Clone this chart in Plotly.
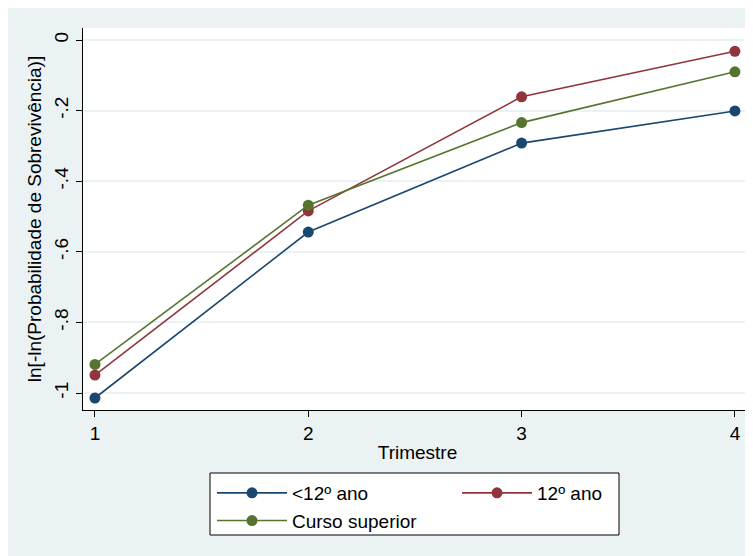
import plotly.graph_objects as go

trimestre = [1, 2, 3, 4]
menos12 = [-1.014, -0.544, -0.292, -0.201]
ano12 = [-0.949, -0.484, -0.161, -0.032]
superior = [-0.919, -0.468, -0.234, -0.090]

series_names = ["<12º ano", "12º ano", "Curso superior"]
colors = ["#1A476F", "#90353B", "#55752F"]
y_ticks = [0, -0.2, -0.4, -0.6, -0.8, -1]
y_labels = ["0", "-.2", "-.4", "-.6", "-.8", "-1"]

# page is offset by the 8px body margin
OFF = 8
W, H = 753 - OFF, 556 - OFF
PL, PR, PT, PB = 83, 752, 28, 410  # plot area in page pixels
L, T = PL - OFF, PT - OFF
R = W - (PR - OFF)
B = H - (PB - OFF)
pw, ph = PR - PL, PB - PT

def px_x(p):
    return (p - PL) / pw

def px_y(p):
    return (PB - p) / ph

fig = go.Figure()
for name, vals, col in zip(series_names, [menos12, ano12, superior], colors):
    fig.add_trace(go.Scatter(
        x=trimestre, y=vals, name=name, mode="lines+markers",
        line=dict(color=col, width=1.6),
        marker=dict(color=col, size=11),
    ))

font = "Liberation Sans, Arial, sans-serif"

fig.update_layout(
    width=W, height=H,
    margin=dict(l=L, r=R, t=T, b=B),
    paper_bgcolor="#EAF2F3",
    plot_bgcolor="white",
    font=dict(family=font, size=19, color="black"),
    showlegend=True,
    legend=dict(
        orientation="h",
        x=px_x(212), y=px_y(474), xanchor="left", yanchor="top",
        bgcolor="rgba(0,0,0,0)", borderwidth=0,
        entrywidth=160, entrywidthmode="pixels",
        itemwidth=70,
        font=dict(family=font, size=19, color="black"),
        traceorder="normal",
    ),
    xaxis=dict(
        range=[0.944, 4.08], tickvals=trimestre, ticktext=[str(t) for t in trimestre],
        showgrid=False, zeroline=False,
        showline=True, linecolor="black", linewidth=1,
        ticks="outside", ticklen=6, tickcolor="black",
        tickfont=dict(size=19),
        title=dict(text="Trimestre", font=dict(size=19), standoff=2),
    ),
    yaxis=dict(
        range=[-1.048, 0.034], tickvals=y_ticks, ticktext=y_labels,
        tickangle=-90,
        showgrid=True, gridcolor="#EAF2F3", gridwidth=1.5, zeroline=False,
        showline=True, linecolor="black", linewidth=1,
        ticks="outside", ticklen=6, tickcolor="black",
        tickfont=dict(size=19),
        title=dict(text="ln[-ln(Probabilidade de Sobrevivência)]", font=dict(size=19), standoff=4),
    ),
    shapes=[
        dict(type="rect", xref="paper", yref="paper",
             x0=px_x(210), x1=px_x(619), y0=px_y(535), y1=px_y(473),
             fillcolor="white", line=dict(color="black", width=1), layer="above"),
    ],
)

fig.write_html("out.html")
